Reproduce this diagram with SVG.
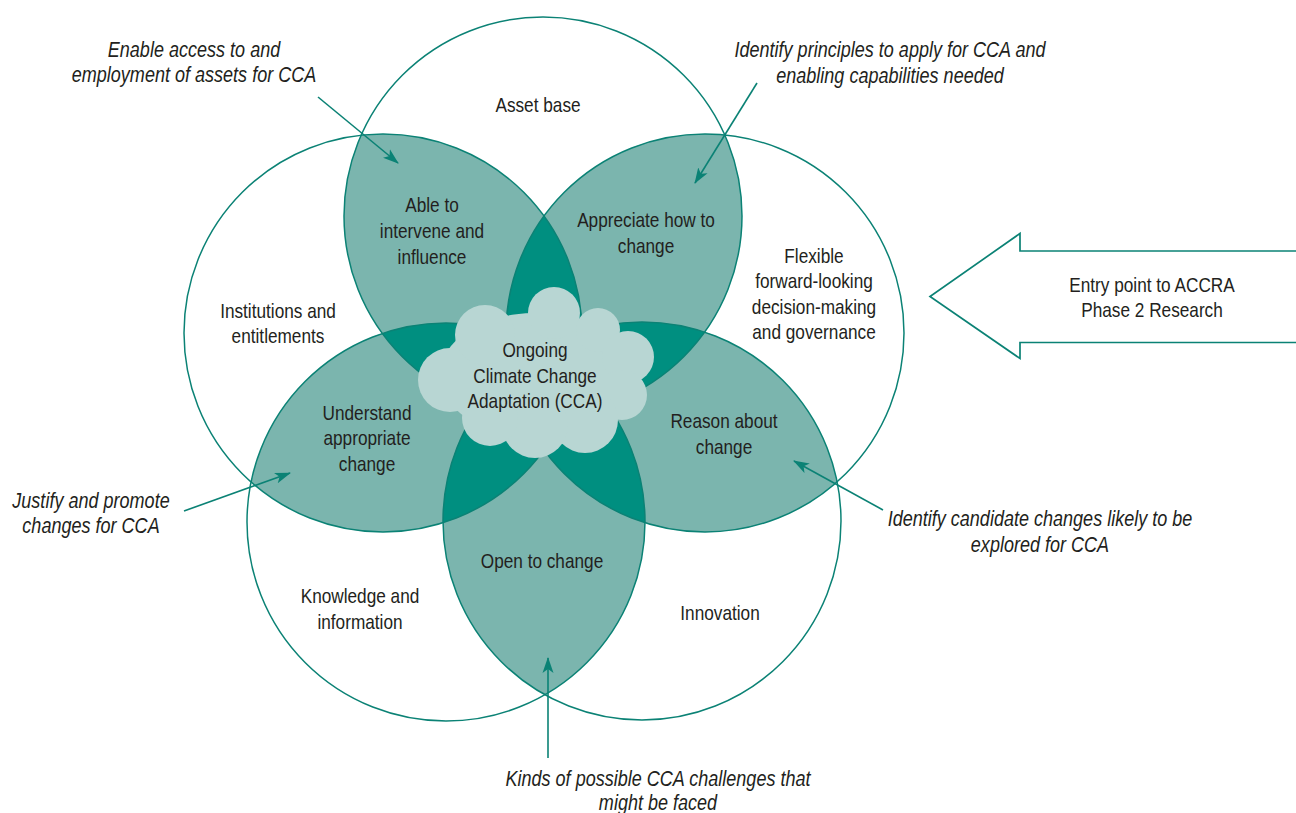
<svg xmlns="http://www.w3.org/2000/svg" width="1296" height="813" viewBox="0 0 1296 813">
<style>
.lbl{font-family:"Liberation Sans",Arial,sans-serif;font-size:21px;fill:#231f20;text-anchor:middle}
.ann{font-style:italic;font-size:22px}
.ring{fill:none;stroke:#0b8275;stroke-width:1.5}
.pair{fill:#7bb5ae}
.tri{fill:#008f80}
.cloud{fill:#b8d6d3}
.con{fill:none;stroke:#0b8275;stroke-width:1.6}
</style>
<defs>
<clipPath id="k0"><circle cx="543" cy="216" r="199"/></clipPath>
<clipPath id="k1"><circle cx="383" cy="333" r="199"/></clipPath>
<clipPath id="k2"><circle cx="705" cy="333" r="199"/></clipPath>
<clipPath id="k3"><circle cx="446" cy="522" r="199"/></clipPath>
<clipPath id="k4"><circle cx="642" cy="521" r="199"/></clipPath>
<marker id="ah" viewBox="0 0 16 12" refX="15" refY="6" markerWidth="16" markerHeight="12" markerUnits="userSpaceOnUse" orient="auto">
<path d="M0,0.5 L16,6 L0,11.5 L4,6 Z" fill="#0b8275"/>
</marker>
</defs>
<rect width="1296" height="813" fill="#ffffff"/>
<g id="shading">
<g clip-path="url(#k0)"><circle class="pair" cx="383" cy="333" r="199"/><circle class="pair" cx="705" cy="333" r="199"/><circle class="pair" cx="446" cy="522" r="199"/><circle class="pair" cx="642" cy="521" r="199"/></g>
<g clip-path="url(#k1)"><circle class="pair" cx="705" cy="333" r="199"/><circle class="pair" cx="446" cy="522" r="199"/><circle class="pair" cx="642" cy="521" r="199"/></g>
<g clip-path="url(#k2)"><circle class="pair" cx="446" cy="522" r="199"/><circle class="pair" cx="642" cy="521" r="199"/></g>
<g clip-path="url(#k3)"><circle class="pair" cx="642" cy="521" r="199"/></g>
<g clip-path="url(#k0)"><g clip-path="url(#k1)"><circle class="tri" cx="705" cy="333" r="199"/><circle class="tri" cx="446" cy="522" r="199"/><circle class="tri" cx="642" cy="521" r="199"/></g></g>
<g clip-path="url(#k0)"><g clip-path="url(#k2)"><circle class="tri" cx="446" cy="522" r="199"/><circle class="tri" cx="642" cy="521" r="199"/></g></g>
<g clip-path="url(#k0)"><g clip-path="url(#k3)"><circle class="tri" cx="642" cy="521" r="199"/></g></g>
<g clip-path="url(#k1)"><g clip-path="url(#k2)"><circle class="tri" cx="446" cy="522" r="199"/><circle class="tri" cx="642" cy="521" r="199"/></g></g>
<g clip-path="url(#k1)"><g clip-path="url(#k3)"><circle class="tri" cx="642" cy="521" r="199"/></g></g>
<g clip-path="url(#k2)"><g clip-path="url(#k3)"><circle class="tri" cx="642" cy="521" r="199"/></g></g>
</g>
<g id="asset-base"><circle class="ring" cx="543" cy="216" r="199"/><text class="lbl" transform="matrix(0.82 0 0 1 538 112)">Asset base</text></g>
<g id="institutions"><circle class="ring" cx="383" cy="333" r="199"/><text class="lbl" transform="matrix(0.82 0 0 1 278 318)"><tspan x="0" y="0">Institutions and</tspan><tspan x="0" y="25">entitlements</tspan></text></g>
<g id="flexible"><circle class="ring" cx="705" cy="333" r="199"/><text class="lbl" transform="matrix(0.82 0 0 1 814 263)"><tspan x="0" y="0">Flexible</tspan><tspan x="0" y="25.5">forward-looking</tspan><tspan x="0" y="51">decision-making</tspan><tspan x="0" y="76.5">and governance</tspan></text></g>
<g id="knowledge"><circle class="ring" cx="446" cy="522" r="199"/><text class="lbl" transform="matrix(0.82 0 0 1 360 603)"><tspan x="0" y="0">Knowledge and</tspan><tspan x="0" y="26">information</tspan></text></g>
<g id="innovation"><circle class="ring" cx="642" cy="521" r="199"/><text class="lbl" transform="matrix(0.82 0 0 1 720 620)">Innovation</text></g>
<g id="able"><text class="lbl" transform="matrix(0.82 0 0 1 432 212)"><tspan x="0" y="0">Able to</tspan><tspan x="0" y="26">intervene and</tspan><tspan x="0" y="52">influence</tspan></text></g>
<g id="appreciate"><text class="lbl" transform="matrix(0.82 0 0 1 646 227)"><tspan x="0" y="0">Appreciate how to</tspan><tspan x="0" y="26">change</tspan></text></g>
<g id="understand"><text class="lbl" transform="matrix(0.82 0 0 1 367 420)"><tspan x="0" y="0">Understand</tspan><tspan x="0" y="25.5">appropriate</tspan><tspan x="0" y="51">change</tspan></text></g>
<g id="reason"><text class="lbl" transform="matrix(0.82 0 0 1 724 428)"><tspan x="0" y="0">Reason about</tspan><tspan x="0" y="26">change</tspan></text></g>
<g id="open"><text class="lbl" transform="matrix(0.82 0 0 1 542 568)">Open to change</text></g>
<g id="cca">
<g class="cloud">
<ellipse cx="535" cy="375" rx="95" ry="62"/>
<circle cx="450" cy="380" r="32"/>
<circle cx="485" cy="335" r="30"/>
<circle cx="554" cy="313" r="26"/>
<circle cx="598" cy="330" r="22"/>
<circle cx="628" cy="357" r="26"/>
<circle cx="622" cy="395" r="25"/>
<circle cx="585" cy="420" r="33"/>
<circle cx="535" cy="425" r="33"/>
<circle cx="490" cy="418" r="28"/>
</g>
<text class="lbl" transform="matrix(0.82 0 0 1 535 357)"><tspan x="0" y="0">Ongoing</tspan><tspan x="0" y="26">Climate Change</tspan><tspan x="0" y="51">Adaptation (CCA)</tspan></text>
</g>
<g id="connectors">
<line class="con" x1="318" y1="97" x2="398" y2="163" marker-end="url(#ah)"/>
<line class="con" x1="757" y1="83" x2="695" y2="183" marker-end="url(#ah)"/>
<line class="con" x1="184" y1="511" x2="290" y2="473" marker-end="url(#ah)"/>
<line class="con" x1="883" y1="510" x2="794" y2="461" marker-end="url(#ah)"/>
<line class="con" x1="548" y1="758" x2="548" y2="658" marker-end="url(#ah)"/>
</g>
<g id="notes">
<text class="lbl ann" transform="matrix(0.82 0 0 1 194 57)"><tspan x="0" y="0">Enable access to and</tspan><tspan x="0" y="25">employment of assets for CCA</tspan></text>
<text class="lbl ann" transform="matrix(0.82 0 0 1 890 57)"><tspan x="0" y="0">Identify principles to apply for CCA and</tspan><tspan x="0" y="26">enabling capabilities needed</tspan></text>
<text class="lbl ann" transform="matrix(0.82 0 0 1 91 508)"><tspan x="0" y="0">Justify and promote</tspan><tspan x="0" y="25">changes for CCA</tspan></text>
<text class="lbl ann" transform="matrix(0.82 0 0 1 1040 526)"><tspan x="0" y="0">Identify candidate changes likely to be</tspan><tspan x="0" y="26">explored for CCA</tspan></text>
<text class="lbl ann" transform="matrix(0.82 0 0 1 658 786)"><tspan x="0" y="0">Kinds of possible CCA challenges that</tspan><tspan x="0" y="24">might be faced</tspan></text>
</g>
<g id="entry-point">
<path d="M1300,251 L1020,251 L1020,233.5 L930,296.5 L1020,358.5 L1020,342.5 L1300,342.5" fill="#ffffff" stroke="#0b8275" stroke-width="1.7"/>
<text class="lbl" transform="matrix(0.82 0 0 1 1152 292)"><tspan x="0" y="0">Entry point to ACCRA</tspan><tspan x="0" y="25">Phase 2 Research</tspan></text>
</g>
</svg>
